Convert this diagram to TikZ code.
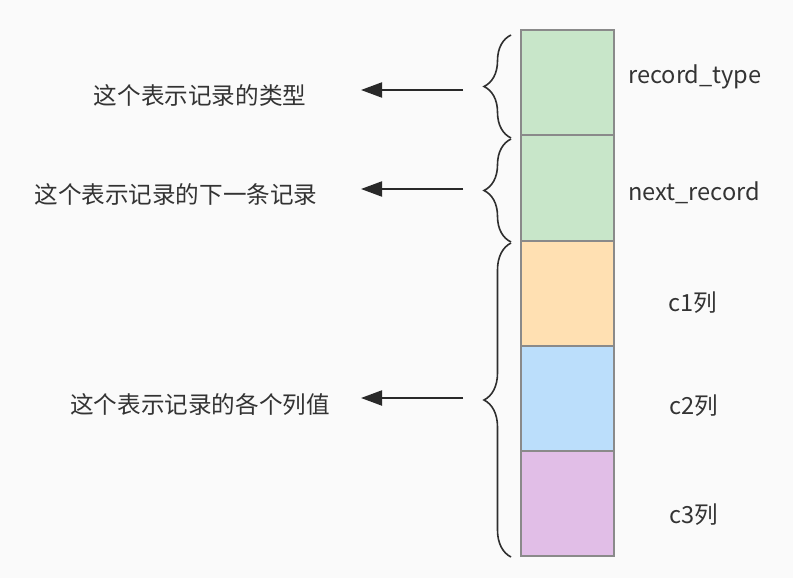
\documentclass[tikz,border=0pt]{standalone}
\usepackage{fontspec}
\setmainfont{Noto Sans CJK SC}
\usetikzlibrary{decorations.pathreplacing,arrows.meta}
\definecolor{bg}{HTML}{FAFAFA}
\definecolor{cgreen}{HTML}{C8E6C9}
\definecolor{corange}{HTML}{FFE0B2}
\definecolor{cblue}{HTML}{BBDEFB}
\definecolor{cpurple}{HTML}{E1BEE7}
\definecolor{cborder}{HTML}{8A8A8A}
\definecolor{ctext}{HTML}{333333}
\tikzset{
  cell/.style={draw=cborder, line width=1.2pt},
  lbl/.style={anchor=base, text=ctext, font=\fontsize{23.6}{28}\selectfont, inner sep=0pt},
  bracestyle/.style={draw=ctext!90!black, line width=1.6pt, decorate, decoration={brace, amplitude=27pt}},
  arr/.style={draw=ctext!80!black, line width=2pt, -{Triangle[length=21pt,width=15pt]}}
}
\begin{document}
\begin{tikzpicture}[x=1pt,y=-1pt]
\fill[bg] (0,0) rectangle (793,578);
\useasboundingbox (0,0) rectangle (793,578);
% cells
\draw[cell, fill=cgreen] (521,30) rectangle (614,135);
\draw[cell, fill=cgreen] (521,135) rectangle (614,241);
\draw[cell, fill=corange] (521,241) rectangle (614,346);
\draw[cell, fill=cblue] (521,346) rectangle (614,451);
\draw[cell, fill=cpurple] (521,451) rectangle (614,556);
% right labels
\node[lbl] (r1) at (695,84) {record\_type};
\node[lbl] (r2) at (694,200) {next\_record};
\node[lbl] (r3) at (693,311) {c1列};
\node[lbl] (r4) at (694,414) {c2列};
\node[lbl] (r5) at (694,523) {c3列};
% braces
\coordinate (b1s) at (511,138);
\coordinate (b1e) at (511,35);
\coordinate (b2s) at (511,242);
\coordinate (b2e) at (511,139);
\coordinate (b3s) at (511,557);
\coordinate (b3e) at (511,243);
\draw[bracestyle] (b1s) -- (b1e);
\draw[bracestyle] (b2s) -- (b2e);
\draw[bracestyle] (b3s) -- (b3e);
% arrows
\coordinate (a1s) at (463,90);
\coordinate (a1e) at (361,90);
\coordinate (a2s) at (463,189);
\coordinate (a2e) at (361,189);
\coordinate (a3s) at (463,398);
\coordinate (a3e) at (361,398);
\draw[arr] (a1s) -- (a1e);
\draw[arr] (a2s) -- (a2e);
\draw[arr] (a3s) -- (a3e);
% left labels
\node[lbl] (l1) at (200,105) {这个表示记录的类型};
\node[lbl] (l2) at (176,203) {这个表示记录的下一条记录};
\node[lbl] (l3) at (200,413) {这个表示记录的各个列值};
\end{tikzpicture}
\end{document}
